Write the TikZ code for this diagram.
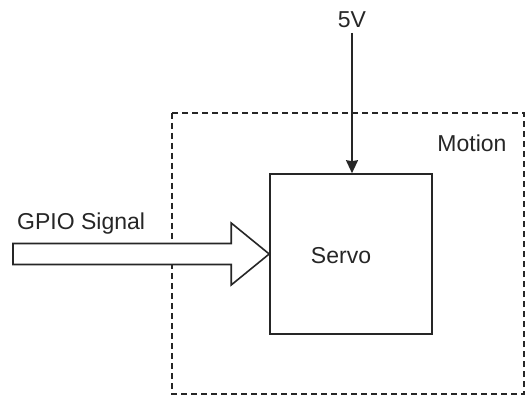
\documentclass[tikz,border=0pt]{standalone}
\usepackage{fontspec}
\setmainfont{Liberation Sans}
\usetikzlibrary{arrows.meta,calc}
\begin{document}
\begin{tikzpicture}[x=1pt,y=-1pt,
  lbl/.style={font=\fontsize{23}{27}\selectfont, text=black!85, inner sep=0pt},
  solidbox/.style={draw=black!85, line width=1.6pt, minimum width=162pt, minimum height=160pt, inner sep=0pt},
  dashbox/.style={draw=black!85, line width=1.6pt, dash pattern=on 6pt off 4pt},
  conn/.style={draw=black!85, line width=1.6pt, -{Stealth[length=13pt,width=12pt,inset=1pt]}},
  blockarrow/.style={draw=black!85, line width=1.6pt, fill=white, line join=miter}]
\useasboundingbox (0,0) rectangle (527,395);
\fill[white] (0,0) rectangle (527,395);
% dashed container
\draw[dashbox] (172,113) rectangle (524,394);
\node[lbl, anchor=center] (motion) at (472,143) {Motion};
% servo
\node[solidbox] (servo) at (351,254) {};
\node[lbl] (servolbl) at (341,256) {Servo};
% 5V
\node[lbl] (v5) at (352,20) {5V};
\draw[conn] (352,33) -- (servo.north -| 352,0);
% GPIO block arrow
\coordinate (gstart) at (13,254);
\draw[blockarrow] ($(gstart)+(0,-10.5)$) -- ($(servo.west)+(-38,-10.5)$) -- ($(servo.west)+(-38,-31)$)
  -- (servo.west) -- ($(servo.west)+(-38,31)$) -- ($(servo.west)+(-38,10.5)$) -- ($(gstart)+(0,10.5)$) -- cycle;
\node[lbl, anchor=west] (gpio) at (17,224) {GPIO Signal};
\end{tikzpicture}
\end{document}
